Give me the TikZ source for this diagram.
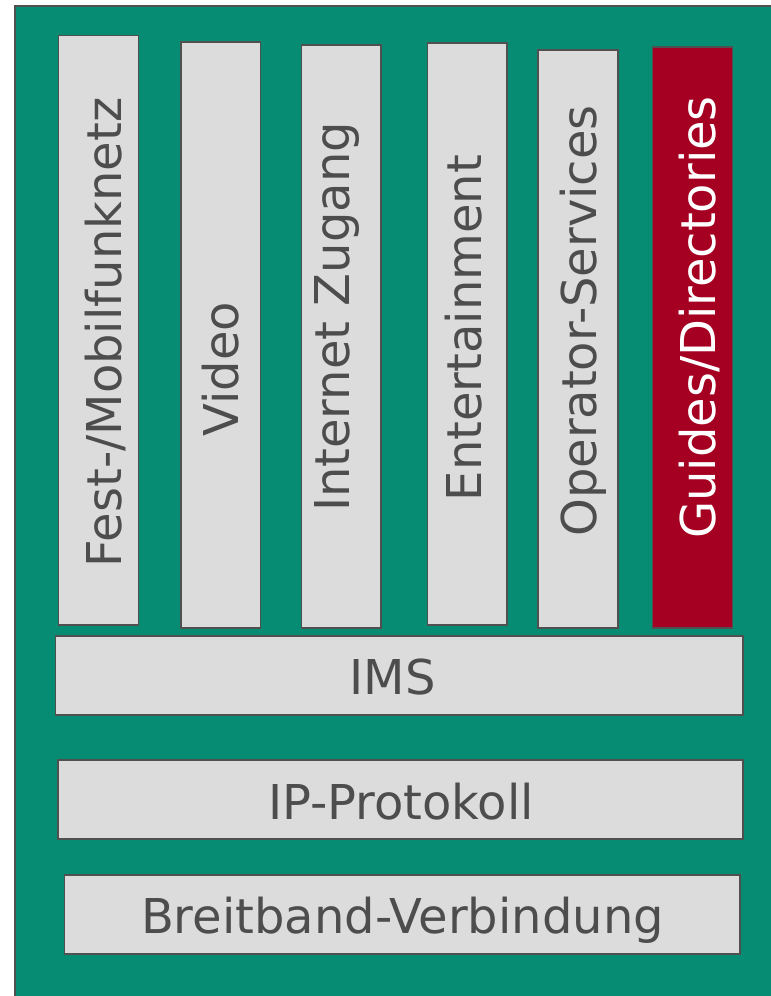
\documentclass[tikz,border=0pt]{standalone}
\usepackage{fontspec}
\setmainfont{DejaVu Sans}
\definecolor{bggreen}{RGB}{5,140,115}
\definecolor{boxgray}{RGB}{220,220,220}
\definecolor{edgegray}{RGB}{80,80,80}
\definecolor{txtgray}{RGB}{77,77,77}
\definecolor{hired}{RGB}{165,0,33}
\tikzset{
  layerbox/.style={fill=boxgray, draw=edgegray, line width=1.4pt},
  redbox/.style={fill=hired, draw=edgegray, line width=1.4pt},
  lbl/.style={inner sep=0pt, text=txtgray, font=\fontsize{48}{56}\selectfont},
  vlbl/.style={lbl, rotate=90, anchor=base},
  hlbl/.style={lbl, anchor=base}
}
\begin{document}
\begin{tikzpicture}[x=1pt,y=-1pt]
\useasboundingbox (0,0) rectangle (771,996);
% background panel
\path[fill=bggreen, draw=edgegray, line width=1.4pt] (15,6) rectangle (775,1000);
% columns
\path[layerbox] (58.5,35.5) rectangle (138.5,625);
\path[layerbox] (181,42) rectangle (260.5,628);
\path[layerbox] (301.7,45) rectangle (381,628);
\path[layerbox] (427.7,43) rectangle (507,625);
\path[layerbox] (538,50) rectangle (618,628);
\path[redbox] (652.7,47) rectangle (732.7,628);
% horizontal layers
\path[layerbox] (55.5,636) rectangle (743,715);
\path[layerbox] (58,760) rectangle (743,839);
\path[layerbox] (64.5,875) rectangle (740,954);
% labels
\node[vlbl] (t1) at (121,332.5) {Fest-/Mobilfunknetz};
\node[vlbl] (t2) at (238,369) {Video};
\node[vlbl] (t3) at (349,317) {Internet Zugang};
\node[vlbl] (t4) at (481.7,328) {Entertainment};
\node[vlbl] (t5) at (596.7,321) {Operator-Services};
\node[vlbl, text=white] (t6) at (715,317.5) {Guides/Directories};
\node[hlbl] (ims) at (392.5,694) {IMS};
\node[hlbl] (ip) at (401,819) {IP-Protokoll};
\node[hlbl] (bb) at (402.5,933) {Breitband-Verbindung};
\end{tikzpicture}
\end{document}
